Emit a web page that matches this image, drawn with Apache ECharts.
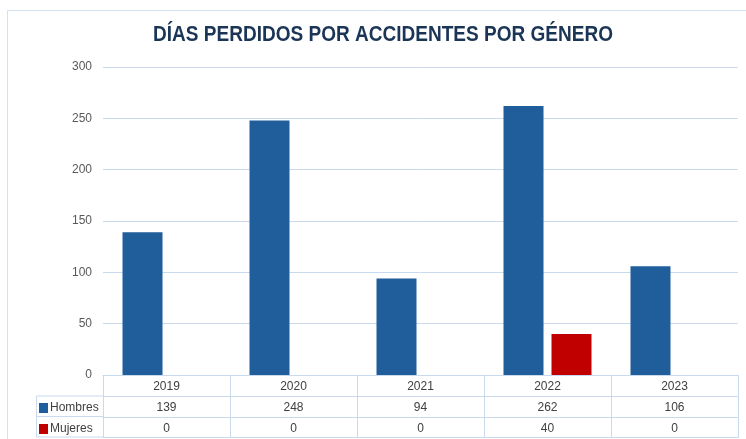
<!DOCTYPE html>
<html><head><meta charset="utf-8">
<script src="https://cdn.jsdelivr.net/npm/echarts@6/dist/echarts.min.js"></script>
<style>html,body{margin:0;padding:0;background:#fff}#c{width:746px;height:439px}</style>
</head><body><div id="c"></div>
<script>
const years = ['2019','2020','2021','2022','2023'];
const hombres = [139, 248, 94, 262, 106];
const mujeres = [0, 0, 0, 40, 0];
const seriesNames = ['Hombres','Mujeres'];
const yTicks = {min:0, max:300, interval:50};
const titleText = 'DÍAS PERDIDOS POR ACCIDENTES POR GÉNERO';

const lineCol = '#C9DAEE';
const txtCol = '#404040';
const font = 'Liberation Sans, Arial, sans-serif';
const chart = echarts.init(document.getElementById('c'), null, {renderer:'canvas'});

function rowAxis(offset, fmt, showLabel){
  return {
    type:'category', data: years, position:'bottom', offset: offset, gridIndex:0,
    axisLine:{show:true, lineStyle:{color:lineCol, width:1}},
    axisTick:{show: showLabel, length:21, inside:false, lineStyle:{color:lineCol}},
    axisLabel:{show: showLabel, margin:6, color: txtCol, fontSize:12, fontFamily:font, formatter: fmt},
    splitLine:{show:false}
  };
}

chart.setOption({
  animation:false,
  legend:{orient:'vertical', left:39, top:402, padding:0, itemWidth:9, itemHeight:10, itemGap:9,
    icon:'rect', data: seriesNames,
    textStyle:{fontFamily:font, fontSize:12, color:txtCol, padding:[0,0,0,-3], lineHeight:12}},
  grid:{left:103, top:67, width:635, height:308, containLabel:false},
  yAxis:{type:'value', min:yTicks.min, max:yTicks.max, interval:yTicks.interval,
    axisLine:{show:false}, axisTick:{show:false},
    axisLabel:{color:'#595959', fontSize:12, fontFamily:font, margin:11},
    splitLine:{lineStyle:{color:lineCol, width:1}}},
  xAxis:[
    rowAxis(0, (v)=>v, true),
    rowAxis(21, (v,i)=>String(hombres[i]), true),
    rowAxis(42, (v,i)=>String(mujeres[i]), true),
    rowAxis(62, ()=>'', false)
  ],
  series:[
    {name:seriesNames[0], type:'bar', data:hombres, barWidth:40, barGap:'20%', itemStyle:{color:'#205E9B'}, xAxisIndex:0},
    {name:seriesNames[1], type:'bar', data:mujeres, barWidth:40, barGap:'20%', itemStyle:{color:'#C00000'}, xAxisIndex:0}
  ],
  graphic:[
    {type:'rect', silent:true, shape:{x:7.5, y:10.5, width:800, height:500}, style:{fill:'none', stroke:'#D3E0EF', lineWidth:1}},
    {type:'text', silent:true, x:383, y:34.5, scaleX:0.865, scaleY:1,
      style:{text:titleText, font:'bold 22px "Liberation Sans", Arial, sans-serif', fill:'#1B3556', align:'center', verticalAlign:'middle'}},
    {type:'polyline', silent:true, shape:{points:[[103,396],[36.5,396],[36.5,437],[103,437]]}, style:{fill:'none', stroke:lineCol, lineWidth:1}},
    {type:'line', silent:true, shape:{x1:36.5, y1:416.5, x2:103, y2:416.5}, style:{stroke:lineCol, lineWidth:1}}
  ]
});
</script></body></html>
